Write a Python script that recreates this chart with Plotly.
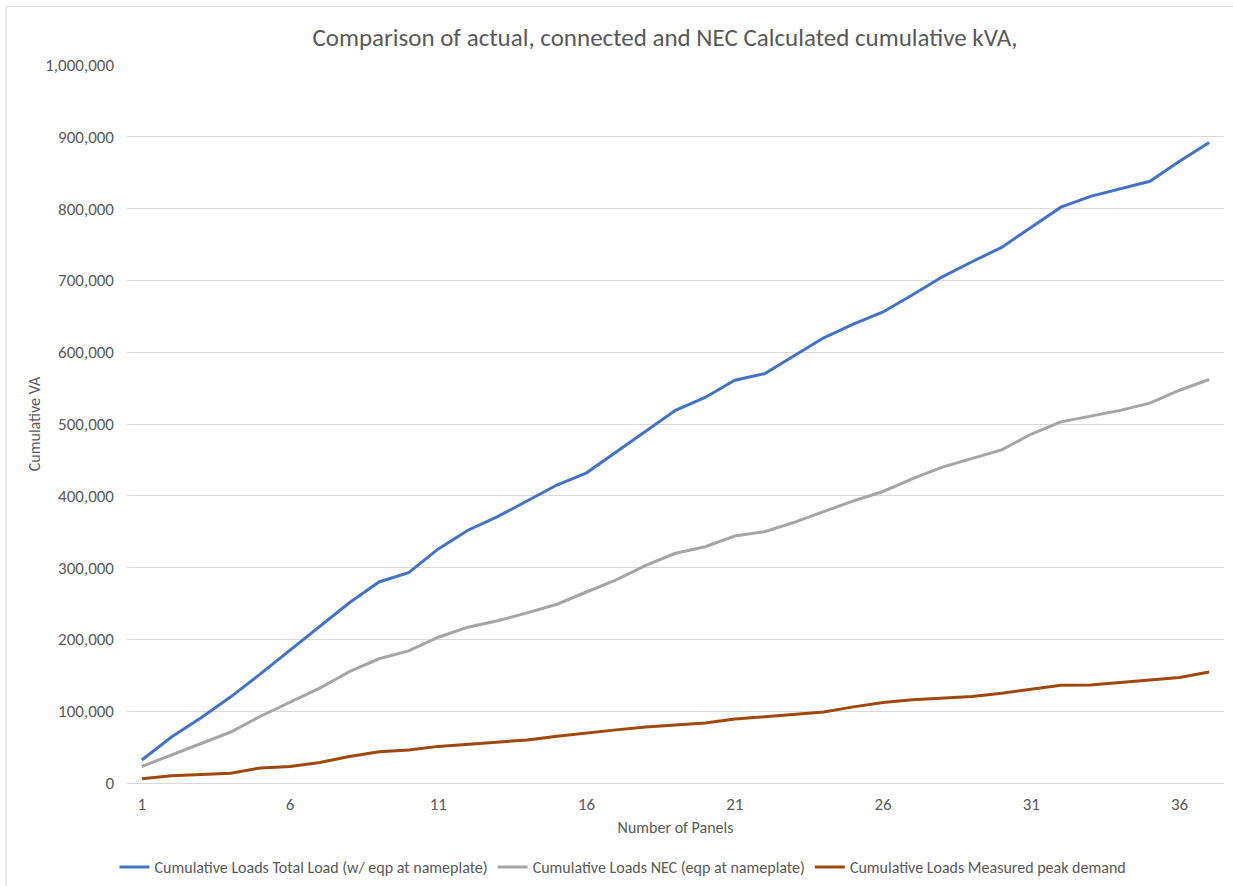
import plotly.graph_objects as go

# Panel count (category axis)
panels = [1, 2, 3, 4, 5, 6, 7, 8, 9, 10, 11, 12, 13, 14, 15, 16, 17, 18, 19,
          20, 21, 22, 23, 24, 25, 26, 27, 28, 29, 30, 31, 32, 33, 34, 35, 36, 37]

# Cumulative VA per series
total_load = [32000, 64000, 91000, 120000, 152000, 185000, 218000, 251000, 280000,
              293000, 326000, 352000, 371000, 393000, 415000, 432000, 461000, 491000,
              519000, 537000, 561000, 570000, 595000, 620000, 639000, 656000, 680000,
              705000, 726000, 746000, 774000, 802000, 817000, 828000, 838000, 866000,
              892000]
nec_load = [23000, 39000, 56000, 71000, 93000, 113000, 132000, 155000, 173000,
            184000, 203000, 217000, 226000, 237000, 249000, 266000, 283000, 303000,
            320000, 329000, 344000, 350000, 363000, 378000, 393000, 406000, 424000,
            440000, 452000, 464000, 486000, 503000, 511000, 519000, 529000, 547000,
            562000]
measured_peak = [6000, 10000, 12000, 13500, 21000, 23000, 28500, 37000, 43500,
                 46000, 51000, 54000, 56500, 60000, 65000, 70000, 74000, 78000,
                 80500, 83500, 89000, 92500, 95000, 99000, 106000, 112000, 116000,
                 118500, 120500, 125000, 131000, 136000, 136500, 140500, 143500,
                 147000, 154500]

series_names = [
    "Cumulative Loads Total Load (w/ eqp at nameplate)",
    "Cumulative Loads NEC (eqp at nameplate)",
    "Cumulative Loads Measured peak demand",
]
series_colors = ["#4472C4", "#A5A5A5", "#9E480E"]

x_ticks = [1, 6, 11, 16, 21, 26, 31, 36]
y_ticks = [0, 100000, 200000, 300000, 400000, 500000, 600000, 700000, 800000,
           900000, 1000000]

FONT = "Calibri, Carlito, Lato, sans-serif"
TEXT = "#595959"
GRID = "#D9D9D9"

fig = go.Figure()
for vals, name, color in zip([total_load, nec_load, measured_peak], series_names, series_colors):
    fig.add_trace(go.Scatter(
        x=panels, y=vals, name=name, mode="lines",
        line=dict(color=color, width=3),
    ))

W, H = 1233, 886
L, R, T, B = 127, 9, 64.5, 102.7
pw = W - L - R
ph = H - T - B


def px_x(p):
    return (p - L) / pw


def px_y(p):
    return (H - B - p) / ph


fig.update_layout(
    width=W, height=H,
    margin=dict(l=L, r=R, t=T, b=B, autoexpand=False),
    paper_bgcolor="white", plot_bgcolor="white",
    font=dict(family=FONT, color=TEXT, size=16),
    title=dict(
        text="Comparison of actual, connected and NEC Calculated cumulative kVA,",
        font=dict(family=FONT, size=25, color=TEXT),
        x=665 / W, xref="container", xanchor="center",
        y=1 - 37 / H, yref="container", yanchor="middle",
    ),
    xaxis=dict(
        range=[0.5, 37.5], tickmode="array", tickvals=x_ticks,
        showgrid=False, zeroline=False,
        showline=True, linecolor=GRID, linewidth=1,
        ticks="", ticklabelstandoff=6,
        tickfont=dict(size=17, color=TEXT),
        title=dict(text="Number of Panels", font=dict(size=16, color=TEXT), standoff=7),
    ),
    yaxis=dict(
        range=[0, 1000000], tickmode="array", tickvals=y_ticks,
        tickformat=",d",
        showgrid=True, gridcolor=GRID, gridwidth=1, zeroline=False,
        showline=False, ticks="", ticklabelstandoff=12,
        tickfont=dict(size=17, color=TEXT),
        title=dict(text="Cumulative VA", font=dict(size=16, color=TEXT), standoff=0),
    ),
    legend=dict(
        orientation="h", x=623 / W, xref="container", xanchor="center",
        y=(H - 867) / H, yref="container", yanchor="middle",
        font=dict(size=16, color=TEXT),
        itemwidth=30, tracegroupgap=0,
        bgcolor="rgba(0,0,0,0)",
    ),
    showlegend=True,
)

# Chart frame (left and top edges)
fig.add_shape(type="line", xref="paper", yref="paper",
              x0=px_x(6), x1=px_x(6), y0=px_y(H + 5), y1=px_y(6),
              line=dict(color=GRID, width=1))
fig.add_shape(type="line", xref="paper", yref="paper",
              x0=px_x(6), x1=px_x(W + 5), y0=px_y(6), y1=px_y(6),
              line=dict(color=GRID, width=1))

fig.write_html("out.html")
